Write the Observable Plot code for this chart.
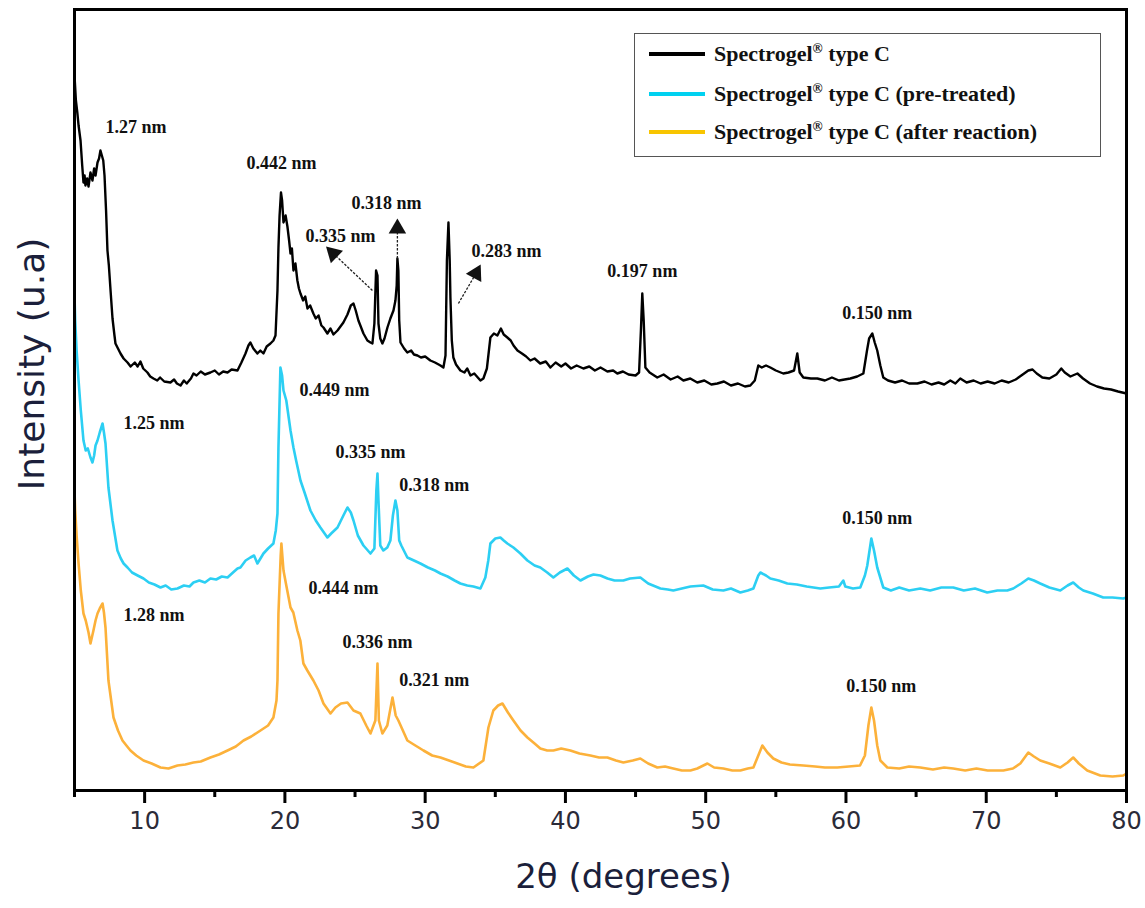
<!DOCTYPE html>
<html><head><meta charset="utf-8">
<script src="https://cdn.jsdelivr.net/npm/d3@7"></script>
<script src="https://cdn.jsdelivr.net/npm/@observablehq/plot@0.6"></script>
<style>
body{margin:0;background:#fff;}
#wrap{position:relative;width:1145px;height:908px;overflow:hidden;}
#legend{position:absolute;left:634px;top:33px;width:467px;height:124px;border:1.5px solid #555;box-sizing:border-box;background:#fff;font-family:"Liberation Serif","Times New Roman",serif;font-weight:bold;font-size:22px;color:#111;}
.row{position:absolute;left:0;height:30px;display:flex;align-items:center;white-space:nowrap;}
.sw{width:56px;height:4px;margin-left:14px;margin-right:9px;}
sup{font-size:0.62em;line-height:0;}
</style></head>
<body>
<div id="wrap"></div>
<script>
// 2θ (degrees), intensity (a.u., stacked as drawn)
const typeC = [[5.00,715],[5.04,705],[5.10,690],[5.20,678],[5.29,665],[5.43,650],[5.55,625],[5.64,608],[5.72,615],[5.78,605],[5.90,612],[6.00,604],[6.14,618],[6.28,610],[6.40,622],[6.50,615],[6.64,628],[6.75,632],[6.85,640],[6.95,635],[7.05,630],[7.14,615],[7.25,580],[7.35,540],[7.45,525],[7.57,500],[7.71,472],[7.85,455],[7.92,447],[8.10,442],[8.28,437],[8.50,432],[8.78,428],[9.00,424],[9.30,428],[9.50,424],[9.70,429],[9.90,422],[10.2,418],[10.4,414],[10.63,412],[10.9,410],[11.1,413],[11.4,409],[11.84,408],[12.1,411],[12.3,407],[12.56,405],[12.8,410],[13.0,407],[13.3,412],[13.48,417],[13.7,415],[14.0,419],[14.3,416],[14.69,418],[15.0,420],[15.3,416],[15.6,419],[15.91,418],[16.2,421],[16.62,420],[16.9,428],[17.19,437],[17.4,445],[17.54,448],[17.75,442],[18.04,437],[18.25,440],[18.47,437],[18.7,444],[18.97,447],[19.18,450],[19.33,455],[19.47,500],[19.54,543],[19.62,575],[19.72,598],[19.8,590],[19.9,568],[20.05,575],[20.18,564],[20.3,550],[20.4,537],[20.5,542],[20.61,520],[20.75,527],[20.89,510],[21.0,502],[21.11,497],[21.3,490],[21.45,494],[21.61,482],[21.8,485],[22.03,477],[22.2,472],[22.4,475],[22.6,465],[22.75,463],[23.03,457],[23.25,462],[23.46,456],[23.75,460],[23.96,464],[24.17,468],[24.46,476],[24.7,485],[24.89,487],[25.05,480],[25.24,470],[25.38,465],[25.6,457],[25.88,450],[26.1,448],[26.24,447],[26.38,467],[26.5,520],[26.6,515],[26.67,467],[26.8,452],[26.95,447],[27.1,452],[27.31,463],[27.52,472],[27.74,480],[27.88,490],[27.97,505],[28.02,532],[28.09,520],[28.15,470],[28.24,448],[28.5,442],[28.73,438],[29.0,440],[29.2,436],[29.45,435],[29.7,433],[30.0,434],[30.37,430],[30.7,428],[31.09,425],[31.3,423],[31.45,435],[31.55,530],[31.66,568],[31.75,530],[31.8,493],[31.9,450],[32.01,433],[32.2,426],[32.51,420],[32.8,418],[33.0,422],[33.23,415],[33.5,417],[33.94,410],[34.15,412],[34.4,422],[34.65,453],[34.9,457],[35.15,455],[35.4,462],[35.6,456],[35.86,453],[36.1,450],[36.3,445],[36.58,440],[36.9,437],[37.2,434],[37.5,430],[37.8,432],[38.2,427],[38.6,429],[38.93,423],[39.3,428],[39.7,424],[40.0,427],[40.4,422],[40.8,425],[41.28,422],[41.7,424],[42.1,420],[42.5,423],[42.99,419],[43.4,420],[43.7,417],[44.1,419],[44.5,416],[45.0,415],[45.25,418],[45.38,460],[45.48,497],[45.58,470],[45.7,423],[46.0,418],[46.55,413],[47.0,416],[47.5,411],[48.0,414],[48.41,410],[48.9,412],[49.4,408],[49.9,410],[50.4,406],[50.83,407],[51.3,409],[51.8,405],[52.3,407],[52.8,404],[53.18,405],[53.5,410],[53.75,425],[54.0,423],[54.3,425],[54.61,423],[55.0,420],[55.53,417],[55.9,418],[56.3,420],[56.53,437],[56.7,418],[56.96,413],[57.5,412],[57.96,412],[58.5,410],[59.0,413],[59.5,410],[60.31,412],[60.8,414],[61.24,417],[61.5,440],[61.65,452],[61.88,457],[62.05,448],[62.23,440],[62.45,425],[62.66,413],[63.0,410],[63.5,408],[64.0,410],[64.5,407],[65.09,407],[65.6,409],[66.1,406],[66.6,408],[67.0,406],[67.44,410],[67.8,407],[68.15,412],[68.6,408],[69.1,410],[69.6,407],[70.1,409],[70.6,407],[71.1,410],[71.6,408],[72.1,411],[72.6,416],[73.0,420],[73.3,421],[73.6,417],[74.0,413],[74.5,412],[75.0,416],[75.35,422],[75.6,418],[76.0,414],[76.5,417],[76.9,412],[77.4,407],[77.9,404],[78.4,402],[78.9,401],[79.4,399],[80.0,397]];

const typeCPretreated = [[5.00,495],[5.05,470],[5.15,440],[5.29,410],[5.45,380],[5.64,350],[5.80,340],[5.95,342],[6.14,333],[6.28,328],[6.40,335],[6.50,345],[6.64,350],[6.80,358],[7.00,367],[7.10,358],[7.21,347],[7.42,303],[7.71,270],[8.06,240],[8.30,232],[8.50,227],[8.78,223],[9.10,218],[9.50,215],[9.92,212],[10.3,208],[10.7,206],[11.13,203],[11.5,205],[11.9,201],[12.34,202],[12.8,205],[13.2,204],[13.48,208],[13.9,210],[14.3,208],[14.69,212],[15.1,211],[15.5,214],[15.91,213],[16.3,218],[16.62,222],[16.83,223],[17.2,230],[17.54,233],[17.8,235],[18.04,227],[18.3,233],[18.47,237],[18.8,242],[19.18,247],[19.35,260],[19.47,277],[19.54,343],[19.68,423],[19.8,415],[19.9,400],[20.1,390],[20.4,360],[20.61,343],[20.8,330],[21.11,310],[21.4,298],[21.82,280],[22.2,270],[22.53,263],[23.03,253],[23.3,257],[23.75,263],[24.17,275],[24.46,283],[24.7,278],[24.89,270],[25.2,255],[25.6,245],[26.1,237],[26.38,242],[26.52,300],[26.6,317],[26.67,290],[26.8,245],[27.02,240],[27.3,243],[27.52,250],[27.7,275],[27.88,290],[28.02,280],[28.15,250],[28.3,245],[28.73,233],[29.2,230],[29.66,227],[30.2,223],[30.7,220],[31.09,217],[31.6,214],[32.1,210],[32.51,207],[33.0,205],[33.44,204],[33.94,202],[34.29,213],[34.5,230],[34.65,247],[35.0,252],[35.36,253],[35.6,250],[35.86,247],[36.29,243],[36.79,237],[37.29,230],[37.8,225],[38.21,223],[38.7,218],[39.14,213],[39.6,218],[40.14,222],[40.6,215],[41.07,210],[41.6,214],[42.0,216],[42.49,215],[43.0,212],[43.5,210],[44.13,210],[44.6,212],[45.34,213],[45.9,207],[46.77,202],[47.3,201],[47.69,200],[48.3,202],[48.91,204],[49.83,205],[50.5,201],[51.26,200],[51.8,202],[52.47,198],[53.0,200],[53.4,202],[53.75,215],[53.9,218],[54.3,215],[54.61,212],[55.2,210],[55.82,207],[56.5,206],[57.2,204],[58.17,202],[58.8,203],[59.5,204],[59.81,210],[59.95,204],[60.5,202],[61.02,203],[61.35,215],[61.52,225],[61.81,252],[62.0,240],[62.23,223],[62.66,203],[63.2,200],[63.8,203],[64.5,200],[65.3,202],[66.0,200],[66.8,203],[67.65,203],[68.4,200],[69.2,202],[70.07,198],[70.8,200],[71.5,200],[71.93,202],[72.5,207],[73.0,212],[73.4,210],[73.85,207],[74.5,203],[75.28,200],[75.8,205],[76.2,208],[76.6,203],[76.92,200],[77.6,197],[78.34,193],[79.0,193],[79.77,192],[80.0,193]];

const typeCAfterReaction = [[5.00,300],[5.05,280],[5.15,255],[5.29,227],[5.45,200],[5.64,177],[5.80,170],[6.00,158],[6.14,147],[6.35,160],[6.50,170],[6.64,177],[6.80,182],[7.00,187],[7.10,178],[7.21,163],[7.42,110],[7.78,73],[8.10,60],[8.42,50],[8.70,45],[8.99,40],[9.40,35],[9.92,30],[10.5,27],[11.13,23],[11.7,22],[12.34,25],[12.9,26],[13.48,28],[14.0,29],[14.69,33],[15.3,36],[15.91,40],[16.5,44],[17.05,50],[17.6,54],[18.26,60],[18.8,65],[19.18,73],[19.4,90],[19.47,110],[19.54,177],[19.7,235],[19.75,247],[19.9,220],[20.1,205],[20.4,183],[20.6,178],[20.89,160],[21.1,150],[21.32,127],[21.6,120],[22.03,110],[22.4,100],[22.75,87],[23.25,77],[23.6,83],[24.0,87],[24.46,88],[24.89,80],[25.38,77],[25.8,65],[26.1,57],[26.45,70],[26.6,127],[26.7,70],[26.95,57],[27.3,65],[27.67,93],[27.9,75],[28.09,70],[28.73,50],[29.3,45],[29.88,40],[30.5,35],[31.09,33],[31.7,30],[32.3,27],[32.9,24],[33.44,23],[34.15,30],[34.51,63],[34.86,80],[35.2,85],[35.51,87],[35.9,78],[36.29,70],[36.8,60],[37.29,53],[37.8,47],[38.21,42],[38.7,40],[39.14,40],[39.7,42],[40.35,40],[41.0,37],[41.78,35],[42.4,33],[42.99,33],[43.6,30],[44.13,28],[44.8,30],[45.34,32],[45.9,27],[46.55,23],[47.1,24],[47.69,22],[48.3,20],[48.91,20],[49.4,22],[50.12,27],[50.6,23],[51.26,22],[51.9,20],[52.47,20],[53.0,22],[53.4,23],[53.75,35],[54.04,45],[54.4,38],[54.82,32],[55.4,28],[56.0,26],[56.96,25],[57.8,24],[58.5,23],[59.38,23],[60.2,24],[61.0,25],[61.35,35],[61.6,65],[61.81,83],[62.0,70],[62.23,45],[62.45,30],[62.95,23],[63.8,22],[64.5,24],[65.3,23],[66.2,21],[67.0,23],[67.65,22],[68.5,20],[69.3,22],[70.1,20],[71.22,20],[71.9,22],[72.43,27],[73.0,38],[73.4,34],[73.85,30],[74.5,27],[75.28,23],[75.8,28],[76.2,33],[76.6,27],[77.2,20],[78.13,15],[79.0,14],[79.77,15],[80.0,17]];

const majorTicks = [10, 20, 30, 40, 50, 60, 70, 80];
const minorTicks = [5, 15, 25, 35, 45, 55, 65, 75];

const peakLabels = [
  {theta: 7.21, intensity: 663, label: "1.27 nm"},
  {theta: 17.26, intensity: 627, label: "0.442 nm"},
  {theta: 21.46, intensity: 554, label: "0.335 nm"},
  {theta: 24.74, intensity: 587, label: "0.318 nm"},
  {theta: 33.30, intensity: 539, label: "0.283 nm"},
  {theta: 42.99, intensity: 519, label: "0.197 nm"},
  {theta: 59.74, intensity: 477, label: "0.150 nm"},
  {theta: 8.49, intensity: 367, label: "1.25 nm"},
  {theta: 21.04, intensity: 400, label: "0.449 nm"},
  {theta: 23.60, intensity: 338, label: "0.335 nm"},
  {theta: 28.16, intensity: 305, label: "0.318 nm"},
  {theta: 59.74, intensity: 272, label: "0.150 nm"},
  {theta: 8.49, intensity: 175, label: "1.28 nm"},
  {theta: 21.68, intensity: 202, label: "0.444 nm"},
  {theta: 24.10, intensity: 148, label: "0.336 nm"},
  {theta: 28.16, intensity: 110, label: "0.321 nm"},
  {theta: 60.02, intensity: 104, label: "0.150 nm"}
];

const pointers = [
  {t1: 26.24, i1: 500, t2: 23.45, i2: 537, angle: -46},
  {t1: 28.02, i1: 532, t2: 28.02, i2: 562, angle: 0},
  {t1: 32.37, i1: 487, t2: 33.62, i2: 517, angle: 28}
];

const chart = Plot.plot({
  width: 1145,
  height: 908,
  marginTop: 9,
  marginBottom: 118,
  marginLeft: 74,
  marginRight: 19,
  x: {domain: [5, 80]},
  y: {domain: [0, 781], axis: null},
  style: {background: "#fff"},
  marks: [
    Plot.line(typeCAfterReaction, {stroke: "#fcb13a", strokeWidth: 2.6}),
    Plot.line(typeCPretreated, {stroke: "#2ccff3", strokeWidth: 2.6}),
    Plot.line(typeC, {stroke: "#000", strokeWidth: 2.4}),
    Plot.link(pointers, {x1: "t1", y1: "i1", x2: "t2", y2: "i2", stroke: "#222", strokeWidth: 1.3, strokeDasharray: "2.5,1.5"}),
    Plot.dot(pointers, {x: "t2", y: "i2", symbol: "triangle", r: 6.5, fill: "#111", stroke: "none", rotate: "angle"}),
    Plot.text(peakLabels, {x: "theta", y: "intensity", text: "label", textAnchor: "start", fontFamily: "Liberation Serif", fontWeight: "bold", fontSize: 18, fill: "#111"}),
    Plot.frame({stroke: "#000", strokeWidth: 3}),
    Plot.axisX({ticks: minorTicks, tickSize: 7, strokeWidth: 3, stroke: "#000", tickFormat: () => "", label: null}),
    Plot.axisX({ticks: majorTicks, tickSize: 13, tickPadding: 8, strokeWidth: 3, stroke: "#000", fill: "#2b2b38", fontSize: 24, fontFamily: "DejaVu Sans", label: null}),
    Plot.text([0], {frameAnchor: "bottom", text: () => "2θ (degrees)", textAnchor: "middle", dx: 23, dy: 97, fontSize: 34, fontFamily: "DejaVu Sans", fill: "#1b1f3b"}),
    Plot.text([0], {frameAnchor: "left", rotate: -90, text: () => "Intensity (u.a)", textAnchor: "middle", dx: -42, dy: -36, fontSize: 36, fontFamily: "DejaVu Sans", fill: "#1b1f3b", letterSpacing: 1.5})
  ]
});

const wrap = document.getElementById("wrap");
wrap.appendChild(chart);

const legendItems = [
  {name: "Spectrogel", suffix: " type C", color: "#000", top: 5},
  {name: "Spectrogel", suffix: " type C (pre-treated)", color: "#00d1f0", top: 45},
  {name: "Spectrogel", suffix: " type C (after reaction)", color: "#f8c500", top: 83}
];
const legend = document.createElement("div");
legend.id = "legend";
for (const it of legendItems) {
  const row = document.createElement("div");
  row.className = "row";
  row.style.top = it.top + "px";
  const sw = document.createElement("span");
  sw.className = "sw";
  sw.style.background = it.color;
  row.appendChild(sw);
  const t = document.createElement("span");
  t.innerHTML = it.name + "<sup>®</sup>" + it.suffix;
  row.appendChild(t);
  legend.appendChild(row);
}
wrap.appendChild(legend);
</script>
</body></html>
